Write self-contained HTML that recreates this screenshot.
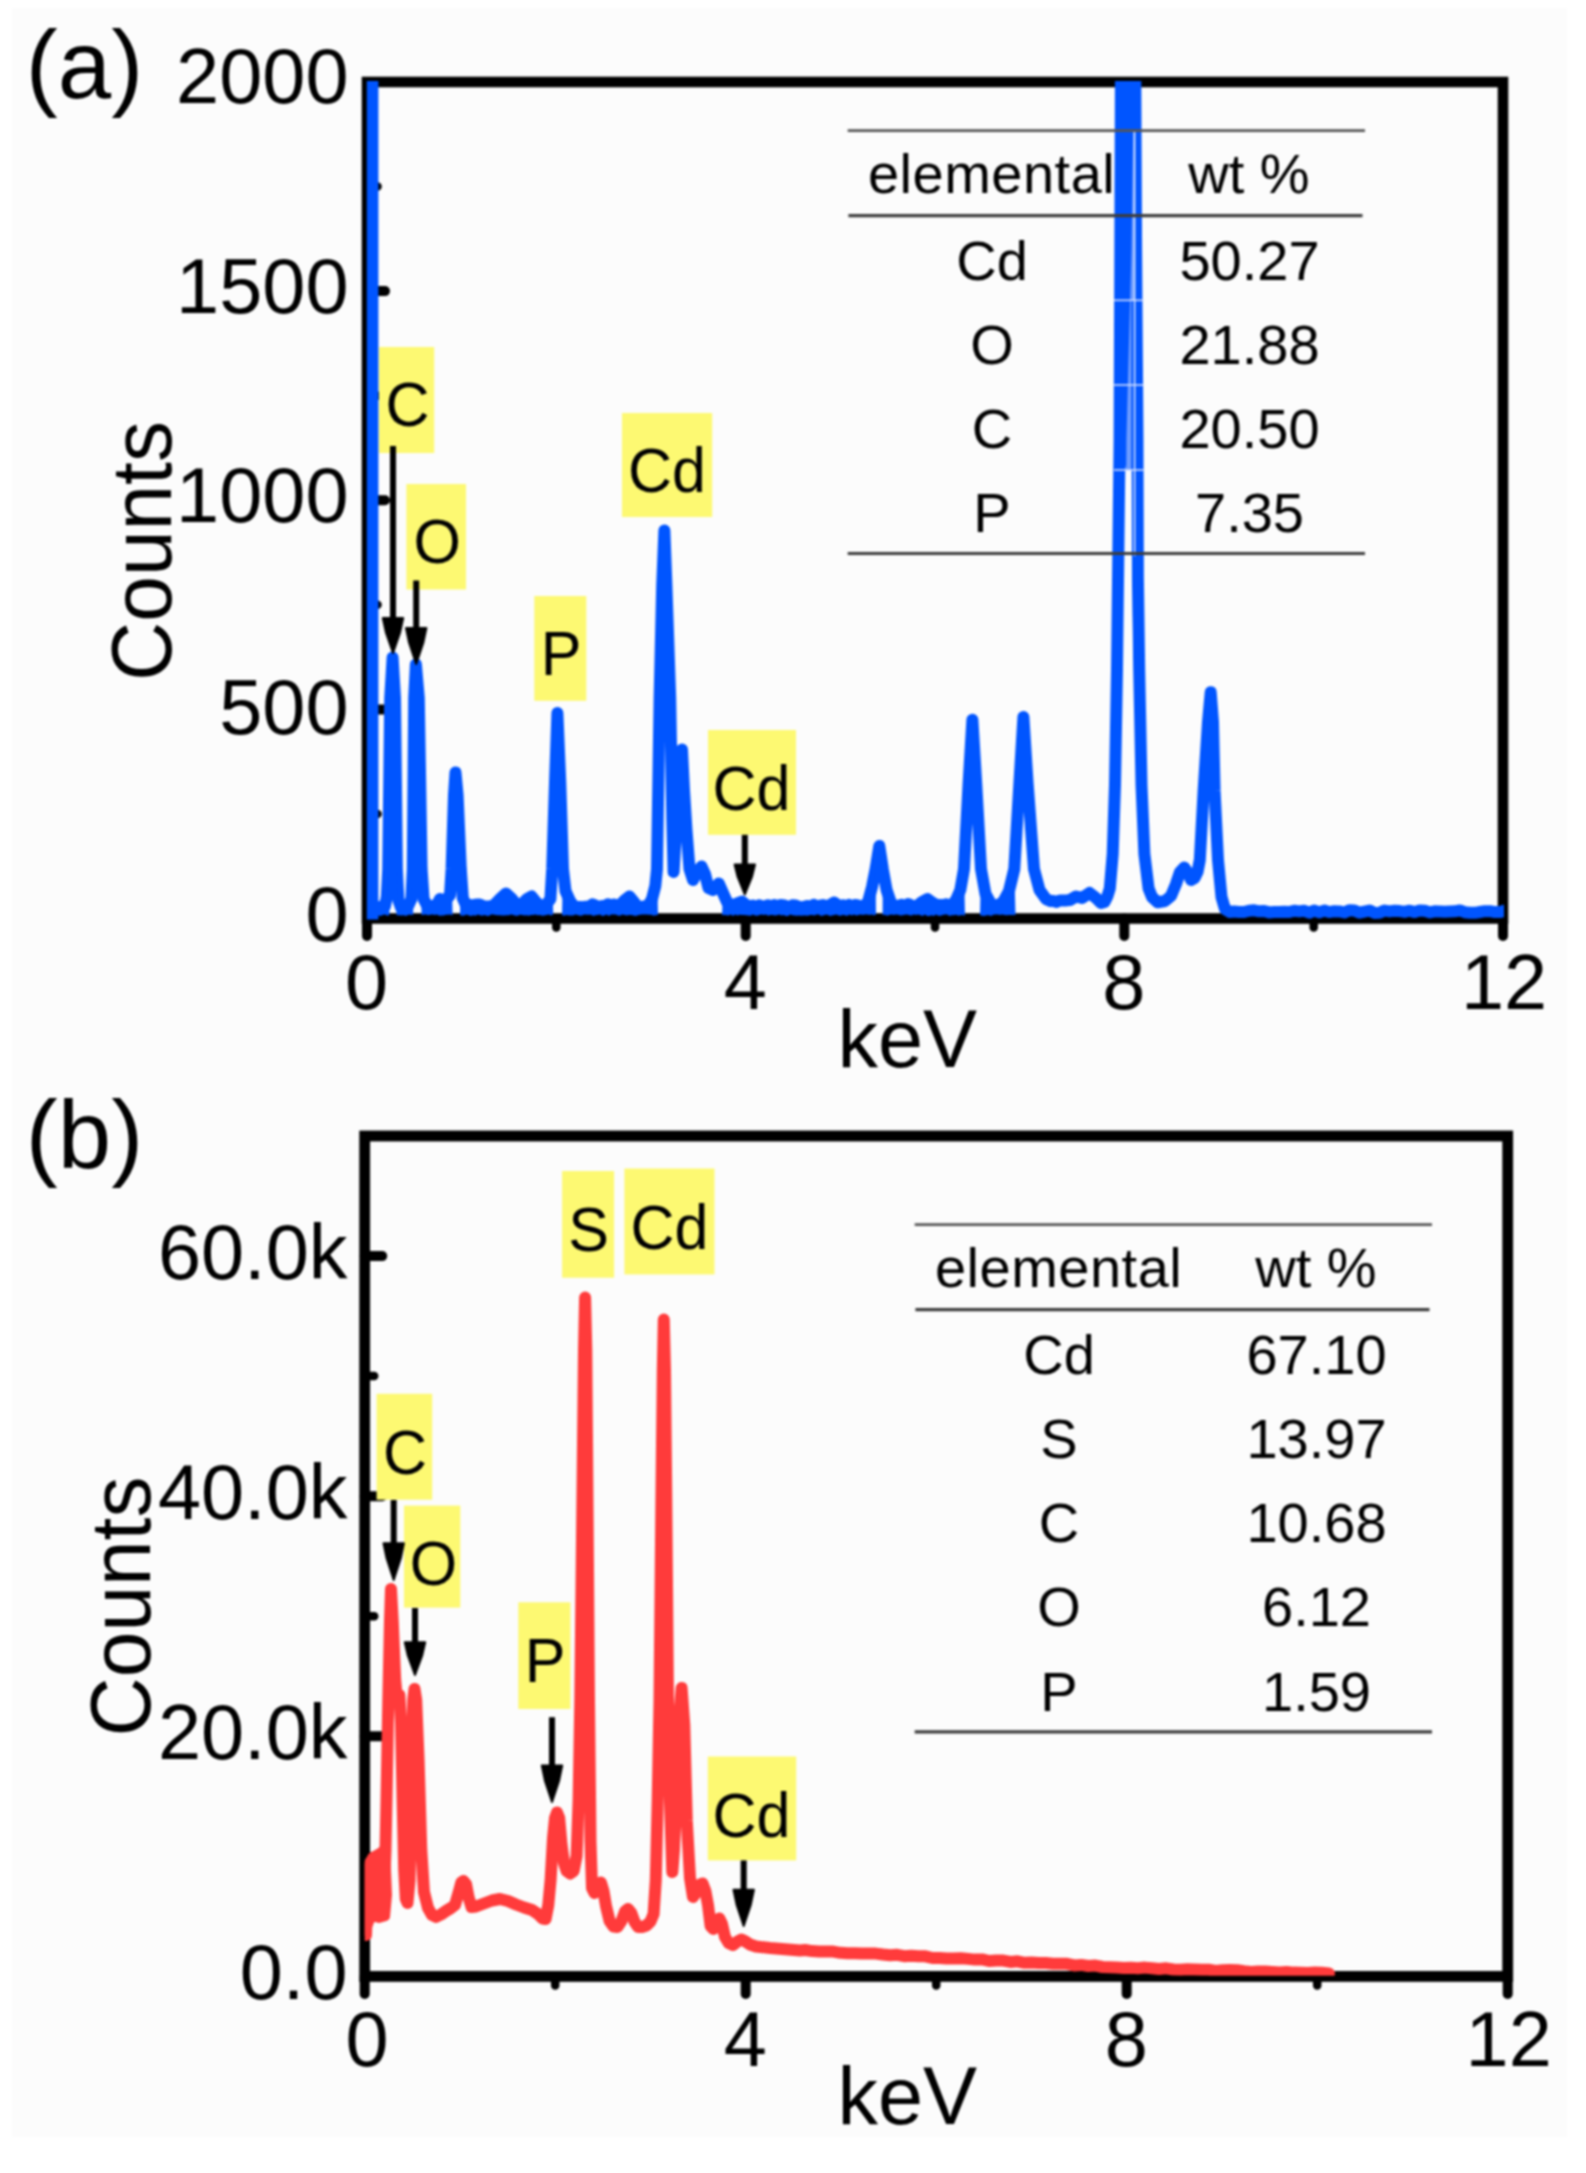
<!DOCTYPE html>
<html lang="en">
<head>
<meta charset="utf-8">
<title>EDX spectra</title>
<style>
html,body{margin:0;padding:0;background:#ffffff;}
body{width:1586px;height:2173px;position:relative;overflow:hidden;}
svg text{font-family:"Liberation Sans",Arial,Helvetica,sans-serif;}
svg{filter:blur(1px);}
</style>
</head>
<body>
<svg width="1586" height="2173" viewBox="0 0 1586 2173" style="position:absolute;left:0;top:0;display:block">
<defs>
<clipPath id="ca"><rect x="366.5" y="81" width="1137.5" height="838.5"/></clipPath>
<clipPath id="cb"><rect x="364.7" y="1136" width="1143" height="839.8"/></clipPath>
</defs>
<rect x="0" y="0" width="1586" height="2173" fill="#ffffff"/>
<rect x="12" y="8" width="1555" height="2129" fill="#fcfcfc"/>
<g font-family='"Liberation Sans", Arial, Helvetica, sans-serif' fill="#000">
<line x1="367" y1="709.4" x2="385" y2="709.4" stroke="#000" stroke-width="10" stroke-linecap="round"/>
<line x1="367" y1="500.2" x2="385" y2="500.2" stroke="#000" stroke-width="10" stroke-linecap="round"/>
<line x1="367" y1="291.1" x2="385" y2="291.1" stroke="#000" stroke-width="10" stroke-linecap="round"/>
<line x1="367" y1="813.9" x2="377.5" y2="813.9" stroke="#000" stroke-width="8.5" stroke-linecap="round"/>
<line x1="367" y1="604.8" x2="377.5" y2="604.8" stroke="#000" stroke-width="8.5" stroke-linecap="round"/>
<line x1="367" y1="395.7" x2="377.5" y2="395.7" stroke="#000" stroke-width="8.5" stroke-linecap="round"/>
<line x1="367" y1="186.6" x2="377.5" y2="186.6" stroke="#000" stroke-width="8.5" stroke-linecap="round"/>
<line x1="367" y1="918.5" x2="367" y2="936" stroke="#000" stroke-width="10" stroke-linecap="round"/>
<line x1="745.7" y1="918.5" x2="745.7" y2="936" stroke="#000" stroke-width="10" stroke-linecap="round"/>
<line x1="1124.3" y1="918.5" x2="1124.3" y2="936" stroke="#000" stroke-width="10" stroke-linecap="round"/>
<line x1="1503" y1="918.5" x2="1503" y2="936" stroke="#000" stroke-width="10" stroke-linecap="round"/>
<line x1="556.3" y1="918.5" x2="556.3" y2="927.5" stroke="#000" stroke-width="8.5" stroke-linecap="round"/>
<line x1="935" y1="918.5" x2="935" y2="927.5" stroke="#000" stroke-width="8.5" stroke-linecap="round"/>
<line x1="1313.7" y1="918.5" x2="1313.7" y2="927.5" stroke="#000" stroke-width="8.5" stroke-linecap="round"/>
<rect x="367" y="82" width="1136" height="836.5" fill="none" stroke="#000" stroke-width="10.6"/>
<rect x="379" y="347" width="55.2" height="106" fill="#fdf972"/>
<rect x="406.4" y="484" width="59.6" height="105.5" fill="#fdf972"/>
<rect x="534.3" y="596" width="52" height="104.8" fill="#fdf972"/>
<rect x="622" y="413" width="90.2" height="104" fill="#fdf972"/>
<rect x="708" y="730" width="88" height="104.8" fill="#fdf972"/>
<g clip-path="url(#ca)" fill="none" stroke="#0055ff" stroke-width="12" stroke-linejoin="round" stroke-linecap="round">
<line x1="372.5" y1="70" x2="372.5" y2="930" stroke="#0055ff" stroke-width="11.8" stroke-linecap="butt"/>
<path d="M373 904.8 L376.5 907.2 L380 907 L385 906.2 L386.8 897 L388.2 869 L390.2 698 L392.6 657.5 L395 698 L396.9 869 L398.4 900 L401 907.7 L404.5 907.6 L408 906.2 L411.4 899 L412.8 869 L414.2 698 L415.9 664.4 L418.8 698 L421.6 869 L423.6 899 L427 905.4 L430 906.3 L433 905.8 L436 906.2 L440 899 L444 902 L450 895 L451.6 869 L454 795 L455.5 772.5 L457.6 795 L460.8 869 L462.8 898 L466 905.4 L469.1 904.8 L472.2 905.6 L475.3 904.8 L478.4 904.4 L481.6 905.3 L484.7 906.9 L487.8 906.4 L490.9 906.2 L494 905.2 L500 899 L506 893.5 L512 899 L517 905 L522 904 L527 899 L531.6 896.5 L536 902 L541 906.2 L546 905 L550.4 899 L552.2 869 L555 783 L557.4 713 L560.3 783 L563 869 L565.5 891 L570 901 L574 906.6 L577.1 906.9 L580.1 907 L583.2 907.4 L586.3 906.7 L589.3 907.2 L592.4 904.3 L595.5 905.6 L598.5 907.1 L601.6 906.1 L604.7 906.8 L607.7 904.2 L610.8 905.3 L613.9 904.5 L616.9 905.4 L620 905.2 L625 900 L629.5 896.5 L634 902 L638 907.1 L641.3 907.2 L644.7 906.2 L648 906.2 L652 899 L655.3 886 L657 869 L659.6 698 L662.2 585 L664.4 530.5 L666.4 585 L670.2 698 L672.3 820 L673.6 872 L675.5 840 L680.2 790 L682 749.5 L684 790 L686.5 830 L689.5 869 L693 880 L697 872 L701.5 866.5 L705 874 L708.5 888 L713 890 L718.8 883.5 L723 893 L727 902 L733 906 L738 903 L742 901.5 L746 905 L750 906.1 L753 905.6 L756.1 907.1 L759.1 905.3 L762.2 906.7 L765.2 906.2 L768.2 905.2 L771.3 906.6 L774.3 905.1 L777.4 906.3 L780.4 905.1 L783.4 905.2 L786.5 906.2 L789.5 907.5 L792.6 905.2 L795.6 905.5 L798.6 906.8 L801.7 907.8 L804.7 906.6 L807.8 906 L810.8 907.8 L813.8 904.8 L816.9 907.4 L819.9 905.6 L823 905.1 L826 906.2 L830 905 L834 902.5 L839 906 L843 905.3 L846 907.7 L849 905 L852 906.9 L855 904.9 L858 905.4 L861 907.8 L864 906.2 L868 902 L872 887 L875.6 869 L879.3 846 L882.8 869 L886.6 890 L891 903 L895 906.1 L898.3 905.7 L901.6 904.8 L904.9 906.9 L908.1 904 L911.4 905.5 L914.7 906.6 L918 905.2 L922 902 L927.5 899 L933 903 L937 905.4 L940 905 L943 905.4 L946 904.3 L949 906.2 L952 905.2 L956 900 L960.3 890 L964 869 L968.6 783 L972.4 719.7 L976.2 783 L981 869 L985.5 894 L991 904 L997 906 L1003 902 L1009 891 L1014.3 869 L1019.4 783 L1023.4 717 L1027.6 783 L1034 869 L1039.5 890 L1046 899 L1050 900.9 L1053.3 901 L1056.7 901.9 L1060 900.4 L1063.3 900.4 L1066.7 900.4 L1070 900 L1076 896.5 L1082 898 L1089.5 893 L1096 898 L1101 903 L1104.5 902 L1107.5 896 L1109.8 888.5 L1112.7 854 L1115 785 L1117 670 L1119.6 440 L1121 60"/>
<path d="M376.5 907.2 L380 907 L385 906.2 L386.8 897 L388.2 869 L389.5 915.1 L387.2 915.8 L385 914.5 L382.8 914.9 L380.5 915.9 L378.2 915.5 L376 915.2Z" fill="#0055ff" stroke="none"/>
<path d="M396.9 869 L398.4 900 L401 907.7 L404.5 907.6 L408 906.2 L411.4 899 L412.8 869 L413.2 915 L410.8 914.8 L408.4 914.7 L406 915.9 L403.7 915.3 L401.3 915.5 L398.9 915.3 L396.5 915.2Z" fill="#0055ff" stroke="none"/>
<path d="M421.6 869 L423.6 899 L427 905.4 L430 906.3 L433 905.8 L436 906.2 L440 899 L444 902 L450 895 L451.6 869 L452.6 915.4 L450.4 914.4 L448.2 914.8 L445.9 914.8 L443.7 915.6 L441.5 915.5 L439.3 915.8 L437.1 914.5 L434.8 915.1 L432.6 914.4 L430.4 914.7 L428.2 915.2 L425.9 914.4 L423.7 914.7 L421.5 915.2Z" fill="#0055ff" stroke="none"/>
<path d="M460.8 869 L462.8 898 L466 905.4 L469.1 904.8 L472.2 905.6 L475.3 904.8 L478.4 904.4 L481.6 905.3 L484.7 906.9 L487.8 906.4 L490.9 906.2 L494 905.2 L500 899 L506 893.5 L512 899 L517 905 L522 904 L527 899 L531.6 896.5 L536 902 L541 906.2 L546 905 L550.4 899 L552.2 869 L553.2 914.5 L551 915.5 L548.8 914.6 L546.5 915.1 L544.3 915.5 L542.1 915.7 L539.9 915.1 L537.7 915.2 L535.4 914.4 L533.2 915.1 L531 915 L528.8 915.8 L526.6 915.3 L524.4 915.6 L522.1 915.1 L519.9 914.7 L517.7 915.8 L515.5 915.7 L513.3 915 L511 914.6 L508.8 915.2 L506.6 915.2 L504.4 915.6 L502.2 915.4 L499.9 915.2 L497.7 915.3 L495.5 915 L493.3 914.5 L491.1 914.5 L488.8 915.9 L486.6 915.7 L484.4 914.9 L482.2 915.8 L480 915.2 L477.8 914.6 L475.5 915.8 L473.3 915.3 L471.1 915.9 L468.9 915.5 L466.7 914.6 L464.4 915.4 L462.2 915.7 L460 915.2Z" fill="#0055ff" stroke="none"/>
<path d="M563 869 L565.5 891 L570 901 L574 906.6 L577.1 906.9 L580.1 907 L583.2 907.4 L586.3 906.7 L589.3 907.2 L592.4 904.3 L595.5 905.6 L598.5 907.1 L601.6 906.1 L604.7 906.8 L607.7 904.2 L610.8 905.3 L613.9 904.5 L616.9 905.4 L620 905.2 L625 900 L629.5 896.5 L634 902 L638 907.1 L641.3 907.2 L644.7 906.2 L648 906.2 L652 899 L655.3 886 L657 869 L658 915.1 L655.8 915.3 L653.5 915.8 L651.3 914.7 L649.1 914.8 L646.8 914.4 L644.6 914.6 L642.4 914.4 L640.1 914.7 L637.9 915.2 L635.7 916 L633.4 915.5 L631.2 915 L629 915 L626.7 915.5 L624.5 914.9 L622.3 914.5 L620 915.7 L617.8 915.4 L615.6 914.6 L613.3 914.5 L611.1 914.6 L608.9 915.9 L606.7 914.6 L604.4 915.4 L602.2 916 L600 914.5 L597.7 915 L595.5 915.2 L593.3 915.9 L591 914.7 L588.8 914.8 L586.6 914.8 L584.3 914.5 L582.1 915.5 L579.9 915.7 L577.6 915.1 L575.4 914.5 L573.2 915.5 L570.9 915.6 L568.7 915.4 L566.5 914.9 L564.2 915.7 L562 915.2Z" fill="#0055ff" stroke="none"/>
<path d="M723 893 L727 902 L733 906 L738 903 L742 901.5 L746 905 L750 906.1 L753 905.6 L756.1 907.1 L759.1 905.3 L762.2 906.7 L765.2 906.2 L768.2 905.2 L771.3 906.6 L774.3 905.1 L777.4 906.3 L780.4 905.1 L783.4 905.2 L786.5 906.2 L789.5 907.5 L792.6 905.2 L795.6 905.5 L798.6 906.8 L801.7 907.8 L804.7 906.6 L807.8 906 L810.8 907.8 L813.8 904.8 L816.9 907.4 L819.9 905.6 L823 905.1 L826 906.2 L830 905 L834 902.5 L839 906 L843 905.3 L846 907.7 L849 905 L852 906.9 L855 904.9 L858 905.4 L861 907.8 L864 906.2 L868 902 L872 887 L875.6 869 L876 914.8 L873.8 915.2 L871.6 914.5 L869.4 914.9 L867.2 914.5 L865 914.4 L862.8 914.9 L860.6 914.6 L858.4 914.9 L856.2 915.6 L854 914.5 L851.8 915.4 L849.6 914.6 L847.4 915.7 L845.2 915.6 L843 914.7 L840.8 915.8 L838.6 915.5 L836.4 914.5 L834.2 915.1 L832 915.5 L829.8 915.9 L827.6 914.7 L825.4 914.8 L823.2 915.6 L821 915.9 L818.8 914.6 L816.6 914.5 L814.4 915.6 L812.2 914.9 L810 915 L807.8 915.8 L805.6 915.6 L803.4 915.5 L801.2 915.8 L799 915.6 L796.8 915.7 L794.6 915.4 L792.4 915.3 L790.2 914.5 L788 915.9 L785.8 915.9 L783.6 915 L781.4 915.4 L779.2 914.4 L777 915.2 L774.8 915.4 L772.6 914.9 L770.4 915.1 L768.2 915.7 L766 914.6 L763.8 915.1 L761.6 914.5 L759.4 915 L757.2 915.8 L755 915.4 L752.8 914.4 L750.6 915.8 L748.4 915.5 L746.2 915.2 L744 914.9 L741.8 914.9 L739.6 914.7 L737.4 915.4 L735.2 914.5 L733 915.9 L730.8 914.6 L728.6 915.4 L726.4 915.3 L724.2 915 L722 915.2Z" fill="#0055ff" stroke="none"/>
<path d="M882.8 869 L886.6 890 L891 903 L895 906.1 L898.3 905.7 L901.6 904.8 L904.9 906.9 L908.1 904 L911.4 905.5 L914.7 906.6 L918 905.2 L922 902 L927.5 899 L933 903 L937 905.4 L940 905 L943 905.4 L946 904.3 L949 906.2 L952 905.2 L956 900 L960.3 890 L964 869 L965 915.8 L962.8 915 L960.5 915.3 L958.3 915.8 L956.1 914.8 L953.9 915.2 L951.6 915.3 L949.4 915.9 L947.2 914.5 L945 914.5 L942.7 914.9 L940.5 915.7 L938.3 915.7 L936 914.6 L933.8 915.9 L931.6 915.2 L929.4 915.9 L927.1 915.9 L924.9 914.5 L922.7 916 L920.5 915.2 L918.2 914.6 L916 915.1 L913.8 914.5 L911.6 915.6 L909.3 915.3 L907.1 914.6 L904.9 914.8 L902.6 915.2 L900.4 915.6 L898.2 914.8 L896 914.6 L893.7 915 L891.5 914.5 L889.3 914.9 L887.1 915.8 L884.8 914.7 L882.6 915.2Z" fill="#0055ff" stroke="none"/>
<path d="M981 869 L985.5 894 L991 904 L997 906 L1003 902 L1009 891 L1014.3 869 L1015.5 915 L1013.3 915.1 L1011.1 915.1 L1008.8 914.9 L1006.6 915.2 L1004.4 915 L1002.2 914.5 L1000 915.1 L997.8 914.4 L995.5 914.6 L993.3 914.8 L991.1 915.9 L988.9 915.2 L986.7 915.3 L984.4 915.9 L982.2 915.8 L980 915.2Z" fill="#0055ff" stroke="none"/>
<path d="M1135.2 60 L1136.1 250 L1137.5 440 L1137.9 578 L1139.2 670 L1141.5 785 L1144.4 854 L1148.6 888.5 L1152 897 L1157.7 902.3 L1165 901 L1171 896 L1176 884 L1180 872 L1184.2 867.5 L1188 873 L1191 880 L1194.6 878 L1197.5 872 L1199.8 860 L1203.6 791 L1208 722 L1210.7 692.2 L1213 722 L1214.6 791 L1218 860 L1221.5 897 L1225 909 L1230 912 L1234 911.5 L1239 912 L1244 912 L1249.1 910.7 L1254.1 910.3 L1259.1 911.3 L1264.1 911 L1269.1 912.4 L1274.1 912.1 L1279.2 911.9 L1284.2 911.8 L1289.2 912 L1294.2 910.7 L1299.2 911.4 L1304.3 910.7 L1309.3 912.7 L1314.3 910.5 L1319.3 912.4 L1324.3 910.5 L1329.3 912.1 L1334.4 911.2 L1339.4 911.4 L1344.4 912.5 L1349.4 910.3 L1354.4 910.5 L1359.5 912.7 L1364.5 911.6 L1369.5 910.5 L1374.5 912.9 L1379.5 912.8 L1384.5 910.6 L1389.6 911.4 L1394.6 910.7 L1399.6 911.1 L1404.6 911.9 L1409.6 910.7 L1414.7 912.1 L1419.7 910.4 L1424.7 910.7 L1429.7 912.4 L1434.7 911.3 L1439.7 911.4 L1444.8 911.8 L1449.8 911.5 L1454.8 911.3 L1459.8 910.4 L1464.8 912.2 L1469.9 912.8 L1474.9 912.8 L1479.9 912 L1484.9 911.2 L1489.9 911.2 L1494.9 912.1 L1500 912.1 L1505 910.6 L1510 911.6"/>
</g>
<g clip-path="url(#ca)">
<polygon points="1120,60 1136,60 1138,440 1132,470 1126,470 1119.6,440" fill="#0055ff"/>
<polygon points="1133.2,131 1134.6,131 1134.6,300 1131.4,300 1131.4,470 1126.2,470 1126.4,440 1128.5,360 1131.5,250" fill="#6f9dff"/>
<polygon points="1126.2,470 1131.3,470 1131.5,578 1132.8,670 1126.4,670 1125.4,578" fill="#fcfcfc"/>
<rect x="1133.9" y="131" width="1.4" height="425" fill="#e9f0ff"/>
<rect x="1114" y="299.5" width="29.5" height="1.6" fill="#cfdcff"/>
<rect x="1114" y="384.2" width="29.5" height="1.6" fill="#cfdcff"/>
<rect x="1114" y="469.2" width="29.5" height="1.6" fill="#cfdcff"/>
</g>
<line x1="847.7" y1="130.7" x2="1365" y2="130.7" stroke="#555" stroke-width="2.8" stroke-linecap="butt"/>
<line x1="848.4" y1="215.7" x2="1362.5" y2="215.7" stroke="#3c3c3c" stroke-width="3.2" stroke-linecap="butt"/>
<line x1="847.7" y1="553.5" x2="1365" y2="553.5" stroke="#3c3c3c" stroke-width="3.2" stroke-linecap="butt"/>
<text x="991.6" y="192.5" font-size="56" text-anchor="middle" letter-spacing="0.5">elemental</text>
<text x="1249" y="192.5" font-size="56" text-anchor="middle">wt %</text>
<text x="992" y="279.5" font-size="56" text-anchor="middle">Cd</text>
<text x="1249.5" y="279.5" font-size="56" text-anchor="middle">50.27</text>
<text x="992" y="363.8" font-size="56" text-anchor="middle">O</text>
<text x="1249.5" y="363.8" font-size="56" text-anchor="middle">21.88</text>
<text x="992" y="448" font-size="56" text-anchor="middle">C</text>
<text x="1249.5" y="448" font-size="56" text-anchor="middle">20.50</text>
<text x="992" y="532.2" font-size="56" text-anchor="middle">P</text>
<text x="1249.5" y="532.2" font-size="56" text-anchor="middle">7.35</text>
<line x1="393" y1="446" x2="393" y2="621" stroke="#000" stroke-width="6" stroke-linecap="butt"/>
<polygon points="382.8,618 403.2,618 400.1,632.4 393,653 385.9,632.4" fill="#000" stroke="#000" stroke-width="2" stroke-linejoin="round"/>
<line x1="416.2" y1="580.5" x2="416.2" y2="631" stroke="#000" stroke-width="6" stroke-linecap="butt"/>
<polygon points="406,628 426.4,628 423.3,642.8 416.2,664 409.1,642.8" fill="#000" stroke="#000" stroke-width="2" stroke-linejoin="round"/>
<line x1="744.8" y1="834.8" x2="744.8" y2="867.5" stroke="#000" stroke-width="6" stroke-linecap="butt"/>
<polygon points="734.6,864.5 755,864.5 751.9,876.9 744.8,894.5 737.7,876.9" fill="#000" stroke="#000" stroke-width="2" stroke-linejoin="round"/>
<text transform="translate(407.5 426.2) scale(1 1.045)" font-size="61" text-anchor="middle">C</text>
<text transform="translate(437.2 563.2) scale(1 1.045)" font-size="61" text-anchor="middle">O</text>
<text transform="translate(561 675) scale(1 1.045)" font-size="61" text-anchor="middle">P</text>
<text transform="translate(667 492) scale(1 1.045)" font-size="61" text-anchor="middle">Cd</text>
<text transform="translate(751.5 810) scale(1 1.045)" font-size="61" text-anchor="middle">Cd</text>
<text x="348.5" y="102.5" font-size="77.5" text-anchor="end">2000</text>
<text x="348.5" y="312.5" font-size="77.5" text-anchor="end">1500</text>
<text x="348.5" y="522" font-size="77.5" text-anchor="end">1000</text>
<text x="348.5" y="734" font-size="77.5" text-anchor="end">500</text>
<text x="348.5" y="940.5" font-size="77.5" text-anchor="end">0</text>
<text x="366.5" y="1008.5" font-size="77.5" text-anchor="middle">0</text>
<text x="745.2" y="1008.5" font-size="77.5" text-anchor="middle">4</text>
<text x="1123.8" y="1008.5" font-size="77.5" text-anchor="middle">8</text>
<text x="1504" y="1008.5" font-size="77.5" text-anchor="middle">12</text>
<text x="907.2" y="1066.5" font-size="81" text-anchor="middle">keV</text>
<text transform="translate(170.7 551) rotate(-90) scale(1 1.05)" font-size="82" text-anchor="middle">Counts</text>
<text x="84.5" y="97.8" font-size="96" text-anchor="middle">(a)</text>
<line x1="364.7" y1="1736.3" x2="382.2" y2="1736.3" stroke="#000" stroke-width="10" stroke-linecap="round"/>
<line x1="364.7" y1="1496.2" x2="382.2" y2="1496.2" stroke="#000" stroke-width="10" stroke-linecap="round"/>
<line x1="364.7" y1="1256.1" x2="382.2" y2="1256.1" stroke="#000" stroke-width="10" stroke-linecap="round"/>
<line x1="364.7" y1="1856.3" x2="374.2" y2="1856.3" stroke="#000" stroke-width="8.5" stroke-linecap="round"/>
<line x1="364.7" y1="1616.2" x2="374.2" y2="1616.2" stroke="#000" stroke-width="8.5" stroke-linecap="round"/>
<line x1="364.7" y1="1376.1" x2="374.2" y2="1376.1" stroke="#000" stroke-width="8.5" stroke-linecap="round"/>
<line x1="364.7" y1="1976.4" x2="364.7" y2="1993.9" stroke="#000" stroke-width="10" stroke-linecap="round"/>
<line x1="745.7" y1="1976.4" x2="745.7" y2="1993.9" stroke="#000" stroke-width="10" stroke-linecap="round"/>
<line x1="1126.7" y1="1976.4" x2="1126.7" y2="1993.9" stroke="#000" stroke-width="10" stroke-linecap="round"/>
<line x1="1507.7" y1="1976.4" x2="1507.7" y2="1993.9" stroke="#000" stroke-width="10" stroke-linecap="round"/>
<line x1="555.2" y1="1976.4" x2="555.2" y2="1985.4" stroke="#000" stroke-width="8.5" stroke-linecap="round"/>
<line x1="936.2" y1="1976.4" x2="936.2" y2="1985.4" stroke="#000" stroke-width="8.5" stroke-linecap="round"/>
<line x1="1317.2" y1="1976.4" x2="1317.2" y2="1985.4" stroke="#000" stroke-width="8.5" stroke-linecap="round"/>
<rect x="364.7" y="1136" width="1143" height="840.4" fill="none" stroke="#000" stroke-width="10.8"/>
<rect x="376.6" y="1393.8" width="55.6" height="105.9" fill="#fdf972"/>
<rect x="404" y="1505.6" width="56.3" height="102" fill="#fdf972"/>
<rect x="518.3" y="1602.3" width="52.1" height="106.7" fill="#fdf972"/>
<rect x="562.1" y="1171" width="52" height="106.7" fill="#fdf972"/>
<rect x="624.4" y="1168.5" width="90.1" height="105.9" fill="#fdf972"/>
<rect x="707.8" y="1756.5" width="88.4" height="103.9" fill="#fdf972"/>
<line x1="914.7" y1="1224.7" x2="1432" y2="1224.7" stroke="#555" stroke-width="2.8" stroke-linecap="butt"/>
<line x1="915.4" y1="1309.7" x2="1429.5" y2="1309.7" stroke="#3c3c3c" stroke-width="3.2" stroke-linecap="butt"/>
<line x1="914.7" y1="1731.8" x2="1432" y2="1731.8" stroke="#3c3c3c" stroke-width="3.2" stroke-linecap="butt"/>
<text x="1058.6" y="1286.5" font-size="56" text-anchor="middle" letter-spacing="0.5">elemental</text>
<text x="1316" y="1286.5" font-size="56" text-anchor="middle">wt %</text>
<text x="1059" y="1373.5" font-size="56" text-anchor="middle">Cd</text>
<text x="1316.5" y="1373.5" font-size="56" text-anchor="middle">67.10</text>
<text x="1059" y="1457.8" font-size="56" text-anchor="middle">S</text>
<text x="1316.5" y="1457.8" font-size="56" text-anchor="middle">13.97</text>
<text x="1059" y="1542" font-size="56" text-anchor="middle">C</text>
<text x="1316.5" y="1542" font-size="56" text-anchor="middle">10.68</text>
<text x="1059" y="1626.2" font-size="56" text-anchor="middle">O</text>
<text x="1316.5" y="1626.2" font-size="56" text-anchor="middle">6.12</text>
<text x="1059" y="1710.5" font-size="56" text-anchor="middle">P</text>
<text x="1316.5" y="1710.5" font-size="56" text-anchor="middle">1.59</text>
<g clip-path="url(#cb)" fill="none" stroke="#ff3b3b" stroke-width="12" stroke-linejoin="round" stroke-linecap="round">
<polygon points="366,1932 366,1866 372,1856 380,1852 386,1846 388,1895 386,1917 379,1919 372,1917" fill="#ff3b3b" stroke-width="8"/>
<path d="M366 1935 L368 1868 L371 1915 L374 1858 L377 1916 L380 1854 L383 1915 L385.5 1850 L386.5 1800 L388.3 1700 L390 1620 L391 1589 L392.8 1622 L395.2 1680 L397.4 1703 L399.4 1695 L401 1722 L402.6 1800 L404.2 1870 L405.8 1899 L407.5 1903 L409.6 1880 L411.4 1760 L413.2 1700 L414.5 1689 L416.2 1700 L418.6 1760 L421.3 1850 L424 1892 L428 1908 L432 1915 L436 1917 L441 1914.5 L446 1911 L451 1908 L455 1905 L458.5 1893 L461.3 1882.5 L463.5 1881 L466 1884 L468.5 1897 L471.5 1907 L476 1906.5 L484 1903.5 L492 1900.5 L500 1899 L508 1901 L516 1904.5 L524 1907.5 L532 1910 L538 1914 L542.5 1918.5 L545.6 1919 L548.3 1905 L550.6 1880 L553 1838 L555 1818 L557 1812.5 L559.2 1818 L561.6 1845 L564 1863 L566.6 1871 L570 1873.5 L573.6 1871 L576.6 1856 L578.6 1800 L580.3 1700 L582.4 1500 L584 1350 L585.1 1297.5 L586.3 1350 L587.5 1500 L589 1700 L590.5 1841 L592 1888 L594.5 1893 L597.6 1886 L600.9 1882.5 L603.5 1891 L606 1906 L609.6 1921 L613.5 1926.5 L617.5 1927 L621.5 1921 L625 1911.5 L628.1 1909 L631.3 1913 L634.6 1922 L638 1927 L642 1927 L646.5 1925.5 L650.5 1921.5 L653.6 1914 L655.8 1880 L657.7 1800 L659.5 1700 L661.4 1500 L662.8 1370 L663.8 1319.5 L665 1370 L666.3 1500 L668 1700 L669.6 1790 L672.3 1872 L674 1850 L676.3 1800 L678.6 1725 L681.6 1688 L684.3 1725 L686.8 1821 L690 1878 L693 1897 L696.5 1892 L699.5 1885 L702.6 1883.5 L705.4 1891 L708 1905 L710.6 1926 L713.5 1929 L716.5 1922 L719.3 1918.5 L722 1924 L725 1937 L728.6 1943 L733 1945 L737.5 1941.5 L741.3 1939.5 L745.5 1941.5 L750 1944.5 L756 1946.5 L770 1948 L800 1950.5 L805 1950 L812.1 1951.1 L819.2 1951.4 L826.2 1951.6 L833.3 1951.6 L840.4 1952.8 L847.5 1953.2 L854.6 1953.2 L861.7 1953.5 L868.7 1953.5 L875.8 1953.6 L882.9 1954.5 L890 1955.2 L897.1 1954.8 L904.2 1956.2 L911.2 1955.8 L918.3 1956.2 L925.4 1956.3 L932.5 1958 L939.6 1958 L946.6 1958.6 L953.7 1958.6 L960.8 1958.2 L967.9 1958.9 L975 1959.6 L982.1 1959.4 L989.1 1961 L996.2 1960.5 L1003.3 1960.6 L1010.4 1961.9 L1017.5 1961.3 L1024.5 1962.8 L1031.6 1962.5 L1038.7 1963 L1045.8 1963.1 L1052.9 1963.7 L1060 1963.7 L1067 1963.8 L1074.1 1965.4 L1081.2 1964.9 L1088.3 1966 L1095.4 1965.6 L1102.5 1967 L1109.5 1967.3 L1116.6 1967.5 L1123.7 1967.9 L1130.8 1967.8 L1137.9 1968.2 L1144.9 1967.6 L1152 1968.3 L1159.1 1969 L1166.2 1968.3 L1173.3 1969.5 L1180.3 1969.7 L1187.4 1969.2 L1194.5 1969.4 L1201.6 1969.7 L1208.7 1969.8 L1215.7 1970.9 L1222.8 1970.2 L1229.9 1969.9 L1237 1970.2 L1244 1971.3 L1251.1 1971.9 L1258.2 1971.4 L1265.3 1971.6 L1272.4 1971.9 L1279.4 1972.4 L1286.5 1971.9 L1293.6 1972.6 L1300.7 1972.8 L1307.8 1973.1 L1314.8 1972.6 L1321.9 1972.8 L1329 1973.5"/>
</g>
<line x1="393.7" y1="1500" x2="393.7" y2="1546.2" stroke="#000" stroke-width="6" stroke-linecap="butt"/>
<polygon points="383.5,1543.2 403.9,1543.2 400.8,1558.3 393.7,1580 386.6,1558.3" fill="#000" stroke="#000" stroke-width="2" stroke-linejoin="round"/>
<line x1="415" y1="1608" x2="415" y2="1645.2" stroke="#000" stroke-width="6" stroke-linecap="butt"/>
<polygon points="404.8,1642.2 425.2,1642.2 422.1,1655.7 415,1675 407.9,1655.7" fill="#000" stroke="#000" stroke-width="2" stroke-linejoin="round"/>
<line x1="552" y1="1717.2" x2="552" y2="1768.6" stroke="#000" stroke-width="6" stroke-linecap="butt"/>
<polygon points="541.8,1765.6 562.2,1765.6 559.1,1780.6 552,1802 544.9,1780.6" fill="#000" stroke="#000" stroke-width="2" stroke-linejoin="round"/>
<line x1="743.7" y1="1860.4" x2="743.7" y2="1892.7" stroke="#000" stroke-width="6" stroke-linecap="butt"/>
<polygon points="733.5,1889.7 753.9,1889.7 750.8,1904.6 743.7,1926 736.6,1904.6" fill="#000" stroke="#000" stroke-width="2" stroke-linejoin="round"/>
<text transform="translate(405 1474) scale(1 1.045)" font-size="61" text-anchor="middle">C</text>
<text transform="translate(433.4 1584.5) scale(1 1.045)" font-size="61" text-anchor="middle">O</text>
<text transform="translate(545.2 1682) scale(1 1.045)" font-size="61" text-anchor="middle">P</text>
<text transform="translate(588.6 1251.2) scale(1 1.045)" font-size="61" text-anchor="middle">S</text>
<text transform="translate(669.5 1249) scale(1 1.045)" font-size="61" text-anchor="middle">Cd</text>
<text transform="translate(751.5 1836.5) scale(1 1.045)" font-size="61" text-anchor="middle">Cd</text>
<text x="347.5" y="1279.1" font-size="77.5" text-anchor="end">60.0k</text>
<text x="347.5" y="1519.2" font-size="77.5" text-anchor="end">40.0k</text>
<text x="347.5" y="1759.3" font-size="77.5" text-anchor="end">20.0k</text>
<text x="347.5" y="1999.4" font-size="77.5" text-anchor="end">0.0</text>
<text x="367" y="2066" font-size="77.5" text-anchor="middle">0</text>
<text x="745.2" y="2066" font-size="77.5" text-anchor="middle">4</text>
<text x="1126.2" y="2066" font-size="77.5" text-anchor="middle">8</text>
<text x="1508.7" y="2066" font-size="77.5" text-anchor="middle">12</text>
<text x="907.2" y="2124" font-size="81" text-anchor="middle">keV</text>
<text transform="translate(149.8 1606.5) rotate(-90) scale(1 1.05)" font-size="82" text-anchor="middle">Counts</text>
<text x="84.5" y="1168.2" font-size="96" text-anchor="middle">(b)</text>
</g>
</svg>
</body>
</html>
